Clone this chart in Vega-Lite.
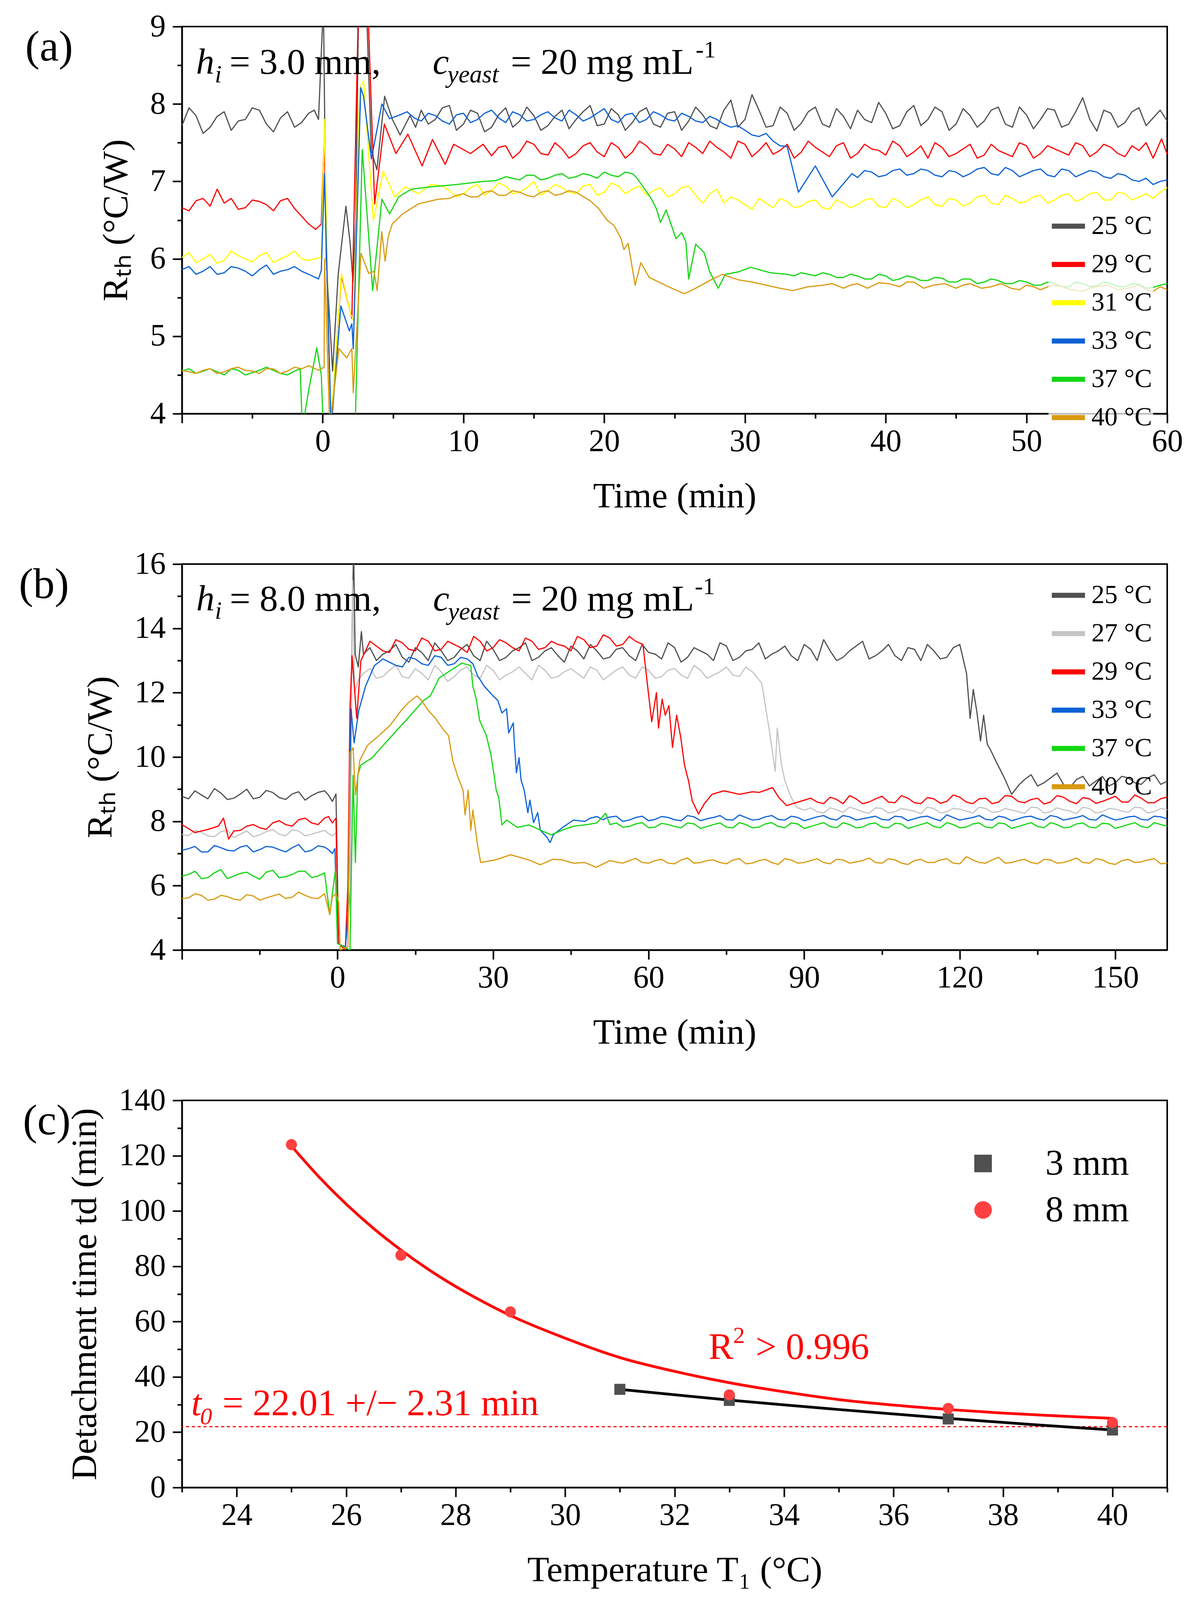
{
  "$schema": "https://vega.github.io/schema/vega-lite/v6.json",
  "background": "white",
  "padding": {"left": 46, "top": 26, "right": 10, "bottom": 10},
  "spacing": 84,
  "config": {
    "view": {"stroke": "#000", "strokeWidth": 4},
    "font": "Liberation Serif",
    "axis": {"grid": false, "domainColor": "#000", "domainWidth": 4, "tickColor": "#000", "tickWidth": 4,
      "labelFont": "Liberation Serif", "labelFontSize": 80, "labelColor": "#000", "labelOverlap": false, "labelFlush": false,
      "titleFont": "Liberation Serif", "titleFontSize": 92, "titleFontWeight": "normal", "titleColor": "#000"},
    "axisX": {"labelPadding": 8, "titlePadding": 55},
    "axisY": {"labelPadding": 18, "titlePadding": 40},
    "legend": {"labelFont": "Liberation Serif", "labelColor": "#000", "labelLimit": 1000},
    "title": {"font": "Liberation Serif", "fontSize": 110, "fontWeight": "normal", "color": "#000", "orient": "left", "anchor": "end", "angle": 0, "align": "right", "baseline": "top", "frame": "group"}
  },
  "datasets": {
    "a": [
      {"s":"25","t":-10,"v":7.72},{"s":"25","t":-9,"v":7.85},{"s":"25","t":-8,"v":7.70},{"s":"25","t":-7,"v":7.90},{"s":"25","t":-6,"v":7.78},{"s":"25","t":-5,"v":7.95},{"s":"25","t":-4,"v":7.74},{"s":"25","t":-3,"v":7.82},{"s":"25","t":-2,"v":7.70},{"s":"25","t":-1,"v":7.88},{"s":"25","t":-0.3,"v":7.80},{"s":"25","t":0.05,"v":9.3},{"s":"25","t":0.25,"v":6.0},{"s":"25","t":0.7,"v":4.55},{"s":"25","t":1.1,"v":5.8},{"s":"25","t":1.65,"v":6.68},{"s":"25","t":1.95,"v":6.2},{"s":"25","t":2.15,"v":5.7},{"s":"25","t":2.35,"v":6.5},{"s":"25","t":2.55,"v":9.3},{"s":"25","t":3.1,"v":9.3},{"s":"25","t":3.45,"v":7.4},{"s":"25","t":3.85,"v":7.15},{"s":"25","t":4.4,"v":8.1},{"s":"25","t":4.95,"v":7.8},{"s":"25","t":5.5,"v":7.6},{"s":"25","t":6.2,"v":7.85},{"s":"25","t":7,"v":7.92},{"s":"25","t":8,"v":7.80},{"s":"25","t":9,"v":7.98},{"s":"25","t":10,"v":7.74},{"s":"25","t":11,"v":7.88},{"s":"25","t":12,"v":7.70},{"s":"25","t":13,"v":7.95},{"s":"25","t":14,"v":7.78},{"s":"25","t":15,"v":7.85},{"s":"25","t":16,"v":7.72},{"s":"25","t":17,"v":7.92},{"s":"25","t":18,"v":7.80},{"s":"25","t":19,"v":7.98},{"s":"25","t":20,"v":7.74},{"s":"25","t":21,"v":7.86},{"s":"25","t":22,"v":7.76},{"s":"25","t":23,"v":7.95},{"s":"25","t":24,"v":7.70},{"s":"25","t":25,"v":7.90},{"s":"25","t":26,"v":7.78},{"s":"25","t":27,"v":7.86},{"s":"25","t":28,"v":7.68},{"s":"25","t":29,"v":8.05},{"s":"25","t":30,"v":7.80},{"s":"25","t":31,"v":7.92},{"s":"25","t":32,"v":7.72},{"s":"25","t":33,"v":7.88},{"s":"25","t":34,"v":7.75},{"s":"25","t":35,"v":7.96},{"s":"25","t":36,"v":7.70},{"s":"25","t":37,"v":7.84},{"s":"25","t":38,"v":7.92},{"s":"25","t":39,"v":7.76},{"s":"25","t":40,"v":7.88},{"s":"25","t":41,"v":7.72},{"s":"25","t":42,"v":7.98},{"s":"25","t":43,"v":7.80},{"s":"25","t":44,"v":7.90},{"s":"25","t":45,"v":7.74},{"s":"25","t":46,"v":7.85},{"s":"25","t":47,"v":7.78},{"s":"25","t":48,"v":7.96},{"s":"25","t":49,"v":7.70},{"s":"25","t":50,"v":7.86},{"s":"25","t":51,"v":7.80},{"s":"25","t":52,"v":7.92},{"s":"25","t":53,"v":7.74},{"s":"25","t":54,"v":8.08},{"s":"25","t":55,"v":7.65},{"s":"25","t":56,"v":7.88},{"s":"25","t":57,"v":7.76},{"s":"25","t":58,"v":7.95},{"s":"25","t":59,"v":7.82},{"s":"25","t":60,"v":7.78},
      {"s":"25","t":-9.5,"v":7.95},{"s":"25","t":-8.5,"v":7.62},{"s":"25","t":-7.5,"v":7.84},{"s":"25","t":-6.5,"v":7.66},{"s":"25","t":-5.5,"v":7.80},{"s":"25","t":-4.5,"v":7.92},{"s":"25","t":-3.5,"v":7.64},{"s":"25","t":-2.5,"v":7.90},{"s":"25","t":-1.5,"v":7.76},{"s":"25","t":-0.6,"v":7.92},{"s":"25","t":6.6,"v":7.70},{"s":"25","t":7.5,"v":7.74},{"s":"25","t":8.5,"v":7.95},{"s":"25","t":9.5,"v":7.66},{"s":"25","t":10.5,"v":7.92},{"s":"25","t":11.5,"v":7.64},{"s":"25","t":12.5,"v":7.86},{"s":"25","t":13.5,"v":7.70},{"s":"25","t":14.5,"v":7.96},{"s":"25","t":15.5,"v":7.66},{"s":"25","t":16.5,"v":7.84},{"s":"25","t":17.5,"v":7.68},{"s":"25","t":18.5,"v":7.90},{"s":"25","t":19.5,"v":7.72},{"s":"25","t":20.5,"v":7.94},{"s":"25","t":21.5,"v":7.66},{"s":"25","t":22.5,"v":7.90},{"s":"25","t":23.5,"v":7.74},{"s":"25","t":24.5,"v":7.88},{"s":"25","t":25.5,"v":7.66},{"s":"25","t":26.5,"v":7.96},{"s":"25","t":27.5,"v":7.72},{"s":"25","t":28.5,"v":7.92},{"s":"25","t":29.5,"v":7.70},{"s":"25","t":30.5,"v":8.12},{"s":"25","t":31.5,"v":7.70},{"s":"25","t":32.5,"v":7.96},{"s":"25","t":33.5,"v":7.66},{"s":"25","t":34.5,"v":7.90},{"s":"25","t":35.5,"v":7.74},{"s":"25","t":36.5,"v":7.94},{"s":"25","t":37.5,"v":7.68},{"s":"25","t":38.5,"v":7.80},{"s":"25","t":39.5,"v":8.02},{"s":"25","t":40.5,"v":7.68},{"s":"25","t":41.5,"v":7.90},{"s":"25","t":42.5,"v":7.72},{"s":"25","t":43.5,"v":7.96},{"s":"25","t":44.5,"v":7.66},{"s":"25","t":45.5,"v":7.94},{"s":"25","t":46.5,"v":7.70},{"s":"25","t":47.5,"v":7.92},{"s":"25","t":48.5,"v":7.74},{"s":"25","t":49.5,"v":7.96},{"s":"25","t":50.5,"v":7.68},{"s":"25","t":51.5,"v":7.94},{"s":"25","t":52.5,"v":7.70},{"s":"25","t":53.5,"v":7.90},{"s":"25","t":54.5,"v":7.80},{"s":"25","t":55.5,"v":7.92},{"s":"25","t":56.5,"v":7.70},{"s":"25","t":57.5,"v":7.90},{"s":"25","t":58.5,"v":7.72},{"s":"25","t":59.5,"v":7.92},
      {"s":"29","t":-10,"v":6.66},{"s":"29","t":-9,"v":6.75},{"s":"29","t":-8,"v":6.68},{"s":"29","t":-7.5,"v":6.9},{"s":"29","t":-7,"v":6.72},{"s":"29","t":-6,"v":6.64},{"s":"29","t":-5,"v":6.76},{"s":"29","t":-4,"v":6.70},{"s":"29","t":-3,"v":6.75},{"s":"29","t":-2,"v":6.65},{"s":"29","t":-1.5,"v":6.55},{"s":"29","t":-1,"v":6.45},{"s":"29","t":-0.5,"v":6.38},{"s":"29","t":-0.1,"v":6.45},{"s":"29","t":0.1,"v":7.55},{"s":"29","t":0.55,"v":3.8},{"s":"29","t":1.33,"v":5.78},{"s":"29","t":2.07,"v":5.23},{"s":"29","t":2.54,"v":9.3},{"s":"29","t":3.2,"v":9.3},{"s":"29","t":3.69,"v":6.71},{"s":"29","t":4.38,"v":7.74},{"s":"29","t":5.2,"v":7.36},{"s":"29","t":6.05,"v":7.61},{"s":"29","t":7.06,"v":7.2},{"s":"29","t":7.8,"v":7.54},{"s":"29","t":8.7,"v":7.22},{"s":"29","t":9.3,"v":7.48},{"s":"29","t":10.5,"v":7.36},{"s":"29","t":11.4,"v":7.48},{"s":"29","t":12,"v":7.33},{"s":"29","t":13,"v":7.46},{"s":"29","t":14,"v":7.38},{"s":"29","t":15,"v":7.48},{"s":"29","t":16,"v":7.34},{"s":"29","t":17,"v":7.42},{"s":"29","t":18,"v":7.36},{"s":"29","t":19,"v":7.50},{"s":"29","t":20,"v":7.32},{"s":"29","t":21,"v":7.44},{"s":"29","t":22,"v":7.38},{"s":"29","t":23,"v":7.46},{"s":"29","t":24,"v":7.34},{"s":"29","t":25,"v":7.42},{"s":"29","t":26,"v":7.50},{"s":"29","t":27,"v":7.36},{"s":"29","t":28,"v":7.44},{"s":"29","t":29,"v":7.30},{"s":"29","t":30,"v":7.48},{"s":"29","t":31,"v":7.40},{"s":"29","t":32,"v":7.35},{"s":"29","t":33,"v":7.48},{"s":"29","t":34,"v":7.38},{"s":"29","t":35,"v":7.44},{"s":"29","t":36,"v":7.32},{"s":"29","t":37,"v":7.50},{"s":"29","t":38,"v":7.36},{"s":"29","t":39,"v":7.42},{"s":"29","t":40,"v":7.34},{"s":"29","t":41,"v":7.46},{"s":"29","t":42,"v":7.38},{"s":"29","t":43,"v":7.30},{"s":"29","t":44,"v":7.44},{"s":"29","t":45,"v":7.36},{"s":"29","t":46,"v":7.48},{"s":"29","t":47,"v":7.34},{"s":"29","t":48,"v":7.40},{"s":"29","t":49,"v":7.32},{"s":"29","t":50,"v":7.46},{"s":"29","t":51,"v":7.36},{"s":"29","t":52,"v":7.42},{"s":"29","t":53,"v":7.34},{"s":"29","t":54,"v":7.46},{"s":"29","t":55,"v":7.38},{"s":"29","t":56,"v":7.44},{"s":"29","t":57,"v":7.32},{"s":"29","t":58,"v":7.40},{"s":"29","t":59,"v":7.30},{"s":"29","t":59.6,"v":7.55},{"s":"29","t":60,"v":7.35},
      {"s":"29","t":-9.5,"v":6.62},{"s":"29","t":-8.5,"v":6.78},{"s":"29","t":-6.5,"v":6.78},{"s":"29","t":-5.5,"v":6.66},{"s":"29","t":-4.5,"v":6.74},{"s":"29","t":-3.5,"v":6.62},{"s":"29","t":-2.5,"v":6.78},{"s":"29","t":12.5,"v":7.44},{"s":"29","t":13.5,"v":7.30},{"s":"29","t":14.5,"v":7.52},{"s":"29","t":15.5,"v":7.36},{"s":"29","t":16.5,"v":7.50},{"s":"29","t":17.5,"v":7.30},{"s":"29","t":18.5,"v":7.46},{"s":"29","t":19.5,"v":7.38},{"s":"29","t":20.5,"v":7.50},{"s":"29","t":21.5,"v":7.30},{"s":"29","t":22.5,"v":7.52},{"s":"29","t":23.5,"v":7.36},{"s":"29","t":24.5,"v":7.48},{"s":"29","t":25.5,"v":7.32},{"s":"29","t":26.5,"v":7.44},{"s":"29","t":27.5,"v":7.52},{"s":"29","t":28.5,"v":7.38},{"s":"29","t":29.5,"v":7.52},{"s":"29","t":30.5,"v":7.32},{"s":"29","t":31.5,"v":7.50},{"s":"29","t":32.5,"v":7.40},{"s":"29","t":33.5,"v":7.30},{"s":"29","t":34.5,"v":7.52},{"s":"29","t":35.5,"v":7.38},{"s":"29","t":36.5,"v":7.46},{"s":"29","t":37.5,"v":7.30},{"s":"29","t":38.5,"v":7.48},{"s":"29","t":39.5,"v":7.40},{"s":"29","t":40.5,"v":7.52},{"s":"29","t":41.5,"v":7.32},{"s":"29","t":42.5,"v":7.46},{"s":"29","t":43.5,"v":7.50},{"s":"29","t":44.5,"v":7.32},{"s":"29","t":45.5,"v":7.42},{"s":"29","t":46.5,"v":7.30},{"s":"29","t":47.5,"v":7.48},{"s":"29","t":48.5,"v":7.36},{"s":"29","t":49.5,"v":7.50},{"s":"29","t":50.5,"v":7.30},{"s":"29","t":51.5,"v":7.46},{"s":"29","t":52.5,"v":7.38},{"s":"29","t":53.5,"v":7.50},{"s":"29","t":54.5,"v":7.32},{"s":"29","t":55.5,"v":7.48},{"s":"29","t":56.5,"v":7.36},{"s":"29","t":57.5,"v":7.46},{"s":"29","t":58.5,"v":7.50},
      {"s":"31","t":-10,"v":6.02},{"s":"31","t":-9,"v":5.95},{"s":"31","t":-8,"v":6.06},{"s":"31","t":-7,"v":5.98},{"s":"31","t":-6,"v":6.04},{"s":"31","t":-5,"v":5.96},{"s":"31","t":-4,"v":6.08},{"s":"31","t":-3,"v":6.00},{"s":"31","t":-2,"v":6.10},{"s":"31","t":-1,"v":5.98},{"s":"31","t":-0.1,"v":6.02},{"s":"31","t":0.12,"v":7.8},{"s":"31","t":0.55,"v":3.8},{"s":"31","t":1.33,"v":5.81},{"s":"31","t":1.98,"v":5.29},{"s":"31","t":2.2,"v":5.2},{"s":"31","t":2.63,"v":8.2},{"s":"31","t":2.9,"v":8.3},{"s":"31","t":3.6,"v":6.49},{"s":"31","t":4.3,"v":7.13},{"s":"31","t":5.12,"v":6.8},{"s":"31","t":5.86,"v":6.93},{"s":"31","t":6.8,"v":6.84},{"s":"31","t":7.71,"v":6.96},{"s":"31","t":9,"v":6.88},{"s":"31","t":10,"v":6.84},{"s":"31","t":11,"v":6.96},{"s":"31","t":12,"v":6.88},{"s":"31","t":13,"v":6.94},{"s":"31","t":14,"v":6.86},{"s":"31","t":15,"v":7.00},{"s":"31","t":16,"v":6.88},{"s":"31","t":17,"v":6.92},{"s":"31","t":18,"v":6.84},{"s":"31","t":19,"v":6.96},{"s":"31","t":20,"v":6.86},{"s":"31","t":21,"v":6.94},{"s":"31","t":22,"v":6.90},{"s":"31","t":23,"v":6.82},{"s":"31","t":24,"v":6.92},{"s":"31","t":25,"v":6.84},{"s":"31","t":26,"v":6.94},{"s":"31","t":27,"v":6.72},{"s":"31","t":28,"v":6.90},{"s":"31","t":29,"v":6.80},{"s":"31","t":30,"v":6.70},{"s":"31","t":31,"v":6.78},{"s":"31","t":32,"v":6.66},{"s":"31","t":33,"v":6.74},{"s":"31","t":34,"v":6.68},{"s":"31","t":35,"v":6.76},{"s":"31","t":36,"v":6.64},{"s":"31","t":37,"v":6.72},{"s":"31","t":38,"v":6.70},{"s":"31","t":39,"v":6.78},{"s":"31","t":40,"v":6.66},{"s":"31","t":41,"v":6.74},{"s":"31","t":42,"v":6.70},{"s":"31","t":43,"v":6.80},{"s":"31","t":44,"v":6.68},{"s":"31","t":45,"v":6.76},{"s":"31","t":46,"v":6.72},{"s":"31","t":47,"v":6.82},{"s":"31","t":48,"v":6.70},{"s":"31","t":49,"v":6.78},{"s":"31","t":50,"v":6.74},{"s":"31","t":51,"v":6.82},{"s":"31","t":52,"v":6.76},{"s":"31","t":53,"v":6.84},{"s":"31","t":54,"v":6.78},{"s":"31","t":55,"v":6.86},{"s":"31","t":56,"v":6.76},{"s":"31","t":57,"v":6.84},{"s":"31","t":58,"v":6.80},{"s":"31","t":59,"v":6.78},{"s":"31","t":60,"v":6.92},
      {"s":"31","t":-9.5,"v":6.08},{"s":"31","t":-8.5,"v":6.00},{"s":"31","t":-7.5,"v":5.94},{"s":"31","t":-6.5,"v":6.10},{"s":"31","t":-5.5,"v":6.00},{"s":"31","t":-4.5,"v":6.04},{"s":"31","t":-3.5,"v":5.95},{"s":"31","t":-2.5,"v":6.04},{"s":"31","t":-1.5,"v":6.00},{"s":"31","t":8.5,"v":6.94},{"s":"31","t":9.5,"v":6.80},{"s":"31","t":10.5,"v":6.92},{"s":"31","t":11.5,"v":6.82},{"s":"31","t":12.5,"v":6.98},{"s":"31","t":13.5,"v":6.84},{"s":"31","t":14.5,"v":6.92},{"s":"31","t":15.5,"v":6.82},{"s":"31","t":16.5,"v":6.96},{"s":"31","t":17.5,"v":6.86},{"s":"31","t":18.5,"v":6.94},{"s":"31","t":19.5,"v":6.82},{"s":"31","t":20.5,"v":6.98},{"s":"31","t":21.5,"v":6.84},{"s":"31","t":22.5,"v":6.94},{"s":"31","t":23.5,"v":6.88},{"s":"31","t":24.5,"v":6.80},{"s":"31","t":25.5,"v":6.92},{"s":"31","t":26.5,"v":6.82},{"s":"31","t":27.5,"v":6.84},{"s":"31","t":28.5,"v":6.72},{"s":"31","t":29.5,"v":6.76},{"s":"31","t":30.5,"v":6.64},{"s":"31","t":31.5,"v":6.72},{"s":"31","t":32.5,"v":6.78},{"s":"31","t":33.5,"v":6.66},{"s":"31","t":34.5,"v":6.74},{"s":"31","t":35.5,"v":6.66},{"s":"31","t":36.5,"v":6.76},{"s":"31","t":37.5,"v":6.66},{"s":"31","t":38.5,"v":6.76},{"s":"31","t":39.5,"v":6.68},{"s":"31","t":40.5,"v":6.78},{"s":"31","t":41.5,"v":6.66},{"s":"31","t":42.5,"v":6.76},{"s":"31","t":43.5,"v":6.70},{"s":"31","t":44.5,"v":6.78},{"s":"31","t":45.5,"v":6.68},{"s":"31","t":46.5,"v":6.80},{"s":"31","t":47.5,"v":6.72},{"s":"31","t":48.5,"v":6.82},{"s":"31","t":49.5,"v":6.72},{"s":"31","t":50.5,"v":6.80},{"s":"31","t":51.5,"v":6.72},{"s":"31","t":52.5,"v":6.82},{"s":"31","t":53.5,"v":6.74},{"s":"31","t":54.5,"v":6.84},{"s":"31","t":55.5,"v":6.76},{"s":"31","t":56.5,"v":6.86},{"s":"31","t":57.5,"v":6.76},{"s":"31","t":58.5,"v":6.84},{"s":"31","t":59.5,"v":6.86},
      {"s":"33","t":-10,"v":5.86},{"s":"33","t":-9,"v":5.80},{"s":"33","t":-8,"v":5.90},{"s":"33","t":-7,"v":5.82},{"s":"33","t":-6,"v":5.88},{"s":"33","t":-5,"v":5.78},{"s":"33","t":-4,"v":5.92},{"s":"33","t":-3,"v":5.84},{"s":"33","t":-2,"v":5.90},{"s":"33","t":-1,"v":5.80},{"s":"33","t":-0.3,"v":5.74},{"s":"33","t":-0.1,"v":5.85},{"s":"33","t":0.12,"v":7.1},{"s":"33","t":0.6,"v":3.8},{"s":"33","t":1.29,"v":5.39},{"s":"33","t":1.89,"v":5.07},{"s":"33","t":2.07,"v":5.16},{"s":"33","t":2.17,"v":4.84},{"s":"33","t":2.7,"v":8.21},{"s":"33","t":2.9,"v":8.1},{"s":"33","t":3.46,"v":7.29},{"s":"33","t":4.2,"v":8.0},{"s":"33","t":4.75,"v":7.81},{"s":"33","t":5.5,"v":7.86},{"s":"33","t":6,"v":7.90},{"s":"33","t":7,"v":7.78},{"s":"33","t":8,"v":7.85},{"s":"33","t":9,"v":7.74},{"s":"33","t":10,"v":7.88},{"s":"33","t":11,"v":7.80},{"s":"33","t":12,"v":7.92},{"s":"33","t":13,"v":7.76},{"s":"33","t":14,"v":7.86},{"s":"33","t":15,"v":7.80},{"s":"33","t":16,"v":7.90},{"s":"33","t":17,"v":7.78},{"s":"33","t":18,"v":7.86},{"s":"33","t":19,"v":7.82},{"s":"33","t":20,"v":7.94},{"s":"33","t":21,"v":7.76},{"s":"33","t":22,"v":7.88},{"s":"33","t":23,"v":7.80},{"s":"33","t":24,"v":7.86},{"s":"33","t":25,"v":7.78},{"s":"33","t":26,"v":7.84},{"s":"33","t":27,"v":7.76},{"s":"33","t":28,"v":7.80},{"s":"33","t":29,"v":7.70},{"s":"33","t":30,"v":7.66},{"s":"33","t":31,"v":7.58},{"s":"33","t":32,"v":7.52},{"s":"33","t":33,"v":7.45},{"s":"33","t":33.8,"v":6.86},{"s":"33","t":35,"v":7.2},{"s":"33","t":36.2,"v":6.8},{"s":"33","t":37.6,"v":7.1},{"s":"33","t":38,"v":7.05},{"s":"33","t":39,"v":7.12},{"s":"33","t":40,"v":7.08},{"s":"33","t":41,"v":7.16},{"s":"33","t":42,"v":7.10},{"s":"33","t":43,"v":7.14},{"s":"33","t":44,"v":7.06},{"s":"33","t":45,"v":7.12},{"s":"33","t":46,"v":7.10},{"s":"33","t":47,"v":7.18},{"s":"33","t":48,"v":7.08},{"s":"33","t":49,"v":7.14},{"s":"33","t":50,"v":7.10},{"s":"33","t":51,"v":7.16},{"s":"33","t":52,"v":7.06},{"s":"33","t":53,"v":7.14},{"s":"33","t":54,"v":7.10},{"s":"33","t":55,"v":7.12},{"s":"33","t":56,"v":7.04},{"s":"33","t":57,"v":7.08},{"s":"33","t":58,"v":7.00},{"s":"33","t":59,"v":6.96},{"s":"33","t":60,"v":7.02},
      {"s":"33","t":-9.5,"v":5.90},{"s":"33","t":-8.5,"v":5.84},{"s":"33","t":-7.5,"v":5.80},{"s":"33","t":-6.5,"v":5.90},{"s":"33","t":-5.5,"v":5.84},{"s":"33","t":-4.5,"v":5.86},{"s":"33","t":-3.5,"v":5.80},{"s":"33","t":-2.5,"v":5.86},{"s":"33","t":-1.5,"v":5.84},{"s":"33","t":6.5,"v":7.82},{"s":"33","t":7.5,"v":7.88},{"s":"33","t":8.5,"v":7.78},{"s":"33","t":9.5,"v":7.86},{"s":"33","t":10.5,"v":7.76},{"s":"33","t":11.5,"v":7.88},{"s":"33","t":12.5,"v":7.82},{"s":"33","t":13.5,"v":7.90},{"s":"33","t":14.5,"v":7.78},{"s":"33","t":15.5,"v":7.86},{"s":"33","t":16.5,"v":7.82},{"s":"33","t":17.5,"v":7.92},{"s":"33","t":18.5,"v":7.78},{"s":"33","t":19.5,"v":7.88},{"s":"33","t":20.5,"v":7.80},{"s":"33","t":21.5,"v":7.86},{"s":"33","t":22.5,"v":7.76},{"s":"33","t":23.5,"v":7.90},{"s":"33","t":24.5,"v":7.80},{"s":"33","t":25.5,"v":7.88},{"s":"33","t":26.5,"v":7.78},{"s":"33","t":27.5,"v":7.84},{"s":"33","t":28.5,"v":7.74},{"s":"33","t":29.5,"v":7.72},{"s":"33","t":30.5,"v":7.60},{"s":"33","t":31.5,"v":7.62},{"s":"33","t":32.5,"v":7.46},{"s":"33","t":38.5,"v":7.14},{"s":"33","t":39.5,"v":7.06},{"s":"33","t":40.5,"v":7.14},{"s":"33","t":41.5,"v":7.08},{"s":"33","t":42.5,"v":7.16},{"s":"33","t":43.5,"v":7.08},{"s":"33","t":44.5,"v":7.14},{"s":"33","t":45.5,"v":7.06},{"s":"33","t":46.5,"v":7.16},{"s":"33","t":47.5,"v":7.10},{"s":"33","t":48.5,"v":7.18},{"s":"33","t":49.5,"v":7.06},{"s":"33","t":50.5,"v":7.14},{"s":"33","t":51.5,"v":7.08},{"s":"33","t":52.5,"v":7.16},{"s":"33","t":53.5,"v":7.06},{"s":"33","t":54.5,"v":7.14},{"s":"33","t":55.5,"v":7.06},{"s":"33","t":56.5,"v":7.10},{"s":"33","t":57.5,"v":7.02},{"s":"33","t":58.5,"v":7.04},{"s":"33","t":59.5,"v":7.00},
      {"s":"37","t":-10,"v":4.55},{"s":"37","t":-9,"v":4.52},{"s":"37","t":-8,"v":4.58},{"s":"37","t":-7,"v":4.50},{"s":"37","t":-6,"v":4.56},{"s":"37","t":-5,"v":4.53},{"s":"37","t":-4,"v":4.60},{"s":"37","t":-3,"v":4.52},{"s":"37","t":-2,"v":4.55},{"s":"37","t":-1.6,"v":4.58},{"s":"37","t":-1.45,"v":3.8},{"s":"37","t":-1.0,"v":4.3},{"s":"37","t":-0.42,"v":4.85},{"s":"37","t":-0.1,"v":4.5},{"s":"37","t":0.04,"v":3.8},{"s":"37","t":2.3,"v":3.8},{"s":"37","t":2.81,"v":7.41},{"s":"37","t":3.55,"v":5.59},{"s":"37","t":4.2,"v":6.77},{"s":"37","t":4.75,"v":6.58},{"s":"37","t":5.4,"v":6.8},{"s":"37","t":6.3,"v":6.9},{"s":"37","t":7.7,"v":6.93},{"s":"37","t":9.56,"v":6.96},{"s":"37","t":10.5,"v":6.98},{"s":"37","t":11.4,"v":7.0},{"s":"37","t":12.3,"v":7.01},{"s":"37","t":13,"v":7.06},{"s":"37","t":14,"v":7.02},{"s":"37","t":15,"v":7.08},{"s":"37","t":16,"v":7.04},{"s":"37","t":17,"v":7.10},{"s":"37","t":18,"v":7.06},{"s":"37","t":19,"v":7.08},{"s":"37","t":20,"v":7.12},{"s":"37","t":21,"v":7.06},{"s":"37","t":22,"v":7.10},{"s":"37","t":22.3,"v":7.05},{"s":"37","t":23.3,"v":6.79},{"s":"37","t":23.7,"v":6.65},{"s":"37","t":24,"v":6.47},{"s":"37","t":24.4,"v":6.63},{"s":"37","t":25.1,"v":6.26},{"s":"37","t":25.5,"v":6.34},{"s":"37","t":25.8,"v":6.22},{"s":"37","t":26.0,"v":5.74},{"s":"37","t":26.5,"v":6.19},{"s":"37","t":27.1,"v":6.08},{"s":"37","t":27.5,"v":5.83},{"s":"37","t":28.1,"v":5.62},{"s":"37","t":28.6,"v":5.80},{"s":"37","t":29.5,"v":5.83},{"s":"37","t":30.4,"v":5.89},{"s":"37","t":31.8,"v":5.82},{"s":"37","t":33,"v":5.80},{"s":"37","t":34,"v":5.82},{"s":"37","t":35,"v":5.78},{"s":"37","t":36,"v":5.80},{"s":"37","t":37,"v":5.76},{"s":"37","t":38,"v":5.78},{"s":"37","t":39,"v":5.74},{"s":"37","t":40,"v":5.78},{"s":"37","t":41,"v":5.74},{"s":"37","t":42,"v":5.76},{"s":"37","t":43,"v":5.72},{"s":"37","t":44,"v":5.75},{"s":"37","t":45,"v":5.70},{"s":"37","t":46,"v":5.74},{"s":"37","t":47,"v":5.70},{"s":"37","t":48,"v":5.72},{"s":"37","t":49,"v":5.68},{"s":"37","t":50,"v":5.70},{"s":"37","t":51,"v":5.66},{"s":"37","t":52,"v":5.68},{"s":"37","t":53,"v":5.64},{"s":"37","t":54,"v":5.68},{"s":"37","t":55,"v":5.65},{"s":"37","t":56,"v":5.68},{"s":"37","t":57,"v":5.64},{"s":"37","t":58,"v":5.67},{"s":"37","t":59,"v":5.63},{"s":"37","t":60,"v":5.68},
      {"s":"37","t":-9.5,"v":4.58},{"s":"37","t":-8.5,"v":4.55},{"s":"37","t":-7.5,"v":4.54},{"s":"37","t":-6.5,"v":4.58},{"s":"37","t":-5.5,"v":4.50},{"s":"37","t":-4.5,"v":4.56},{"s":"37","t":-3.5,"v":4.56},{"s":"37","t":-2.5,"v":4.50},{"s":"37","t":13.5,"v":7.04},{"s":"37","t":14.5,"v":7.08},{"s":"37","t":15.5,"v":7.02},{"s":"37","t":16.5,"v":7.08},{"s":"37","t":17.5,"v":7.04},{"s":"37","t":18.5,"v":7.10},{"s":"37","t":19.5,"v":7.04},{"s":"37","t":20.5,"v":7.08},{"s":"37","t":21.5,"v":7.12},{"s":"37","t":33.5,"v":5.78},{"s":"37","t":34.5,"v":5.80},{"s":"37","t":35.5,"v":5.82},{"s":"37","t":36.5,"v":5.76},{"s":"37","t":37.5,"v":5.80},{"s":"37","t":38.5,"v":5.74},{"s":"37","t":39.5,"v":5.80},{"s":"37","t":40.5,"v":5.72},{"s":"37","t":41.5,"v":5.78},{"s":"37","t":42.5,"v":5.72},{"s":"37","t":43.5,"v":5.76},{"s":"37","t":44.5,"v":5.70},{"s":"37","t":45.5,"v":5.74},{"s":"37","t":46.5,"v":5.68},{"s":"37","t":47.5,"v":5.74},{"s":"37","t":48.5,"v":5.68},{"s":"37","t":49.5,"v":5.72},{"s":"37","t":50.5,"v":5.66},{"s":"37","t":51.5,"v":5.70},{"s":"37","t":52.5,"v":5.64},{"s":"37","t":53.5,"v":5.70},{"s":"37","t":54.5,"v":5.64},{"s":"37","t":55.5,"v":5.70},{"s":"37","t":56.5,"v":5.64},{"s":"37","t":57.5,"v":5.68},{"s":"37","t":58.5,"v":5.62},{"s":"37","t":59.5,"v":5.66},
      {"s":"40","t":-10,"v":4.56},{"s":"40","t":-9,"v":4.52},{"s":"40","t":-8,"v":4.58},{"s":"40","t":-7,"v":4.54},{"s":"40","t":-6,"v":4.60},{"s":"40","t":-5,"v":4.55},{"s":"40","t":-4,"v":4.58},{"s":"40","t":-3,"v":4.52},{"s":"40","t":-2,"v":4.60},{"s":"40","t":-1,"v":4.62},{"s":"40","t":-0.3,"v":4.56},{"s":"40","t":0.1,"v":4.6},{"s":"40","t":0.13,"v":6.0},{"s":"40","t":0.5,"v":3.8},{"s":"40","t":1.15,"v":4.84},{"s":"40","t":1.7,"v":4.72},{"s":"40","t":2.07,"v":4.84},{"s":"40","t":2.17,"v":4.27},{"s":"40","t":2.72,"v":6.07},{"s":"40","t":3.27,"v":5.81},{"s":"40","t":3.64,"v":5.84},{"s":"40","t":3.87,"v":5.59},{"s":"40","t":4.2,"v":6.35},{"s":"40","t":4.43,"v":5.97},{"s":"40","t":4.66,"v":6.29},{"s":"40","t":4.94,"v":6.45},{"s":"40","t":5.68,"v":6.58},{"s":"40","t":6.8,"v":6.71},{"s":"40","t":8.2,"v":6.77},{"s":"40","t":9,"v":6.78},{"s":"40","t":10,"v":6.84},{"s":"40","t":11,"v":6.80},{"s":"40","t":12,"v":6.88},{"s":"40","t":13,"v":6.82},{"s":"40","t":14,"v":6.86},{"s":"40","t":15,"v":6.80},{"s":"40","t":16,"v":6.88},{"s":"40","t":17,"v":6.84},{"s":"40","t":18,"v":6.86},{"s":"40","t":19,"v":6.75},{"s":"40","t":19.6,"v":6.65},{"s":"40","t":20.2,"v":6.5},{"s":"40","t":20.7,"v":6.43},{"s":"40","t":21.2,"v":6.26},{"s":"40","t":21.4,"v":6.12},{"s":"40","t":21.7,"v":6.2},{"s":"40","t":22.2,"v":5.66},{"s":"40","t":22.6,"v":5.95},{"s":"40","t":23.2,"v":5.76},{"s":"40","t":24,"v":5.69},{"s":"40","t":24.8,"v":5.62},{"s":"40","t":25.7,"v":5.55},{"s":"40","t":26.5,"v":5.62},{"s":"40","t":27.6,"v":5.73},{"s":"40","t":28.4,"v":5.80},{"s":"40","t":29.5,"v":5.73},{"s":"40","t":30.5,"v":5.70},{"s":"40","t":31.5,"v":5.66},{"s":"40","t":32.5,"v":5.62},{"s":"40","t":33.4,"v":5.59},{"s":"40","t":34.5,"v":5.64},{"s":"40","t":35.6,"v":5.66},{"s":"40","t":37,"v":5.62},{"s":"40","t":38,"v":5.68},{"s":"40","t":39.5,"v":5.69},{"s":"40","t":41,"v":5.64},{"s":"40","t":42,"v":5.70},{"s":"40","t":43.4,"v":5.66},{"s":"40","t":45,"v":5.62},{"s":"40","t":46,"v":5.68},{"s":"40","t":47.5,"v":5.64},{"s":"40","t":48.9,"v":5.62},{"s":"40","t":50,"v":5.66},{"s":"40","t":51,"v":5.60},{"s":"40","t":52.5,"v":5.64},{"s":"40","t":54,"v":5.58},{"s":"40","t":55,"v":5.64},{"s":"40","t":56.5,"v":5.60},{"s":"40","t":58,"v":5.66},{"s":"40","t":59,"v":5.58},{"s":"40","t":60,"v":5.60},
      {"s":"40","t":-9.5,"v":4.54},{"s":"40","t":-8.5,"v":4.56},{"s":"40","t":-7.5,"v":4.52},{"s":"40","t":-6.5,"v":4.58},{"s":"40","t":-5.5,"v":4.56},{"s":"40","t":-4.5,"v":4.52},{"s":"40","t":-3.5,"v":4.58},{"s":"40","t":-2.5,"v":4.55},{"s":"40","t":-1.5,"v":4.58},{"s":"40","t":9.5,"v":6.82},{"s":"40","t":10.5,"v":6.80},{"s":"40","t":11.5,"v":6.86},{"s":"40","t":12.5,"v":6.82},{"s":"40","t":13.5,"v":6.88},{"s":"40","t":14.5,"v":6.82},{"s":"40","t":15.5,"v":6.86},{"s":"40","t":16.5,"v":6.82},{"s":"40","t":17.5,"v":6.88},{"s":"40","t":36.2,"v":5.68},{"s":"40","t":37.5,"v":5.66},{"s":"40","t":38.7,"v":5.62},{"s":"40","t":40.2,"v":5.68},{"s":"40","t":41.5,"v":5.70},{"s":"40","t":42.7,"v":5.62},{"s":"40","t":44.2,"v":5.68},{"s":"40","t":45.5,"v":5.66},{"s":"40","t":46.8,"v":5.62},{"s":"40","t":48.2,"v":5.68},{"s":"40","t":49.5,"v":5.60},{"s":"40","t":50.5,"v":5.64},{"s":"40","t":51.8,"v":5.66},{"s":"40","t":53.2,"v":5.60},{"s":"40","t":54.5,"v":5.62},{"s":"40","t":55.8,"v":5.66},{"s":"40","t":57.2,"v":5.62},{"s":"40","t":58.5,"v":5.60},{"s":"40","t":59.5,"v":5.64}
    ],
    "b": [
      {"s":"25","t":-30,"v":8.78},{"s":"25","t":-27.5,"v":8.95},{"s":"25","t":-25,"v":8.70},{"s":"25","t":-22.5,"v":8.88},{"s":"25","t":-20,"v":8.72},{"s":"25","t":-17.5,"v":9.0},{"s":"25","t":-15,"v":8.75},{"s":"25","t":-12.5,"v":8.90},{"s":"25","t":-10,"v":8.68},{"s":"25","t":-7.5,"v":8.92},{"s":"25","t":-5,"v":8.80},{"s":"25","t":-2.5,"v":8.95},{"s":"25","t":-1,"v":8.62},{"s":"25","t":-0.3,"v":8.85},{"s":"25","t":0.2,"v":4.2},{"s":"25","t":1.5,"v":4.0},{"s":"25","t":2.4,"v":5.8},{"s":"25","t":2.8,"v":14.0},{"s":"25","t":3.1,"v":16.5},{"s":"25","t":3.4,"v":13.2},{"s":"25","t":4,"v":12.8},{"s":"25","t":4.6,"v":13.9},{"s":"25","t":5,"v":13.2},{"s":"25","t":7.5,"v":13.0},{"s":"25","t":10,"v":13.3},{"s":"25","t":12.5,"v":13.1},{"s":"25","t":15,"v":13.4},{"s":"25","t":17.5,"v":13.0},{"s":"25","t":20,"v":13.3},{"s":"25","t":22.5,"v":13.1},{"s":"25","t":25,"v":13.5},{"s":"25","t":27.5,"v":13.0},{"s":"25","t":30,"v":13.35},{"s":"25","t":32.5,"v":13.1},{"s":"25","t":35,"v":13.4},{"s":"25","t":37.5,"v":13.0},{"s":"25","t":40,"v":13.3},{"s":"25","t":42.5,"v":13.15},{"s":"25","t":45,"v":13.45},{"s":"25","t":47.5,"v":13.05},{"s":"25","t":50,"v":13.3},{"s":"25","t":52.5,"v":13.1},{"s":"25","t":55,"v":13.4},{"s":"25","t":57.5,"v":13.0},{"s":"25","t":60,"v":13.25},{"s":"25","t":62.5,"v":13.05},{"s":"25","t":65,"v":13.4},{"s":"25","t":67.5,"v":13.1},{"s":"25","t":70,"v":13.3},{"s":"25","t":72.5,"v":13.0},{"s":"25","t":75,"v":13.45},{"s":"25","t":77.5,"v":13.1},{"s":"25","t":80,"v":13.35},{"s":"25","t":82.5,"v":13.05},{"s":"25","t":85,"v":13.3},{"s":"25","t":87.5,"v":13.15},{"s":"25","t":90,"v":13.5},{"s":"25","t":92.5,"v":13.0},{"s":"25","t":95,"v":13.3},{"s":"25","t":97.5,"v":13.1},{"s":"25","t":100,"v":13.45},{"s":"25","t":102.5,"v":13.05},{"s":"25","t":105,"v":13.3},{"s":"25","t":107.5,"v":13.15},{"s":"25","t":110,"v":13.4},{"s":"25","t":112.5,"v":13.0},{"s":"25","t":115,"v":13.3},{"s":"25","t":117.5,"v":13.1},{"s":"25","t":120,"v":13.5},{"s":"25","t":121.3,"v":12.6},{"s":"25","t":122,"v":11.2},{"s":"25","t":122.6,"v":12.1},{"s":"25","t":123.3,"v":11.4},{"s":"25","t":124,"v":10.5},{"s":"25","t":124.6,"v":11.3},{"s":"25","t":125.3,"v":10.4},{"s":"25","t":126,"v":10.2},{"s":"25","t":127,"v":9.86},{"s":"25","t":128.6,"v":9.35},{"s":"25","t":130,"v":8.84},{"s":"25","t":131.5,"v":9.15},{"s":"25","t":132.5,"v":9.3},{"s":"25","t":135,"v":9.1},{"s":"25","t":137.5,"v":9.35},{"s":"25","t":140,"v":9.15},{"s":"25","t":142.5,"v":9.3},{"s":"25","t":145,"v":9.1},{"s":"25","t":147.5,"v":9.4},{"s":"25","t":150,"v":9.2},{"s":"25","t":152.5,"v":9.35},{"s":"25","t":155,"v":9.15},{"s":"25","t":157.5,"v":9.45},{"s":"25","t":160,"v":9.25},
      {"s":"25","t":-28.75,"v":8.70},{"s":"25","t":-26.25,"v":8.82},{"s":"25","t":-23.75,"v":9.02},{"s":"25","t":-21.25,"v":8.68},{"s":"25","t":-18.75,"v":8.85},{"s":"25","t":-16.25,"v":8.70},{"s":"25","t":-13.75,"v":8.96},{"s":"25","t":-11.25,"v":8.74},{"s":"25","t":-8.75,"v":8.85},{"s":"25","t":-6.25,"v":8.66},{"s":"25","t":-3.75,"v":8.90},{"s":"25","t":-1.75,"v":8.82},{"s":"25","t":6.25,"v":13.4},{"s":"25","t":8.75,"v":13.2},{"s":"25","t":11.25,"v":13.5},{"s":"25","t":13.75,"v":12.95},{"s":"25","t":16.25,"v":13.25},{"s":"25","t":18.75,"v":13.55},{"s":"25","t":21.25,"v":13.0},{"s":"25","t":23.75,"v":13.35},{"s":"25","t":26.25,"v":13.15},{"s":"25","t":28.75,"v":13.6},{"s":"25","t":31.25,"v":13.0},{"s":"25","t":33.75,"v":13.3},{"s":"25","t":36.25,"v":13.55},{"s":"25","t":38.75,"v":13.1},{"s":"25","t":41.25,"v":13.4},{"s":"25","t":43.75,"v":12.95},{"s":"25","t":46.25,"v":13.3},{"s":"25","t":48.75,"v":13.5},{"s":"25","t":51.25,"v":13.05},{"s":"25","t":53.75,"v":13.35},{"s":"25","t":56.25,"v":13.15},{"s":"25","t":58.75,"v":13.5},{"s":"25","t":61.25,"v":13.2},{"s":"25","t":63.75,"v":13.55},{"s":"25","t":66.25,"v":12.95},{"s":"25","t":68.75,"v":13.4},{"s":"25","t":71.25,"v":13.2},{"s":"25","t":73.75,"v":13.55},{"s":"25","t":76.25,"v":13.0},{"s":"25","t":78.75,"v":13.3},{"s":"25","t":81.25,"v":13.55},{"s":"25","t":83.75,"v":13.2},{"s":"25","t":86.25,"v":13.45},{"s":"25","t":88.75,"v":13.0},{"s":"25","t":91.25,"v":13.35},{"s":"25","t":93.75,"v":13.65},{"s":"25","t":96.25,"v":13.0},{"s":"25","t":98.75,"v":13.3},{"s":"25","t":101.25,"v":13.6},{"s":"25","t":103.75,"v":13.15},{"s":"25","t":106.25,"v":13.5},{"s":"25","t":108.75,"v":13.0},{"s":"25","t":111.25,"v":13.35},{"s":"25","t":113.75,"v":13.5},{"s":"25","t":116.25,"v":13.05},{"s":"25","t":118.75,"v":13.4},{"s":"25","t":133.75,"v":9.45},{"s":"25","t":136.25,"v":9.2},{"s":"25","t":138.75,"v":9.5},{"s":"25","t":141.25,"v":9.05},{"s":"25","t":143.75,"v":9.4},{"s":"25","t":146.25,"v":9.25},{"s":"25","t":148.75,"v":9.1},{"s":"25","t":151.25,"v":9.4},{"s":"25","t":153.75,"v":9.2},{"s":"25","t":156.25,"v":9.35},{"s":"25","t":158.75,"v":9.15},
      {"s":"27","t":-30,"v":7.6},{"s":"27","t":-27.5,"v":7.72},{"s":"27","t":-25,"v":7.55},{"s":"27","t":-22.5,"v":7.68},{"s":"27","t":-20,"v":7.5},{"s":"27","t":-17.5,"v":7.7},{"s":"27","t":-15,"v":7.58},{"s":"27","t":-12.5,"v":7.75},{"s":"27","t":-10,"v":7.55},{"s":"27","t":-7.5,"v":7.7},{"s":"27","t":-5,"v":7.6},{"s":"27","t":-2.5,"v":7.72},{"s":"27","t":-1,"v":7.55},{"s":"27","t":-0.3,"v":7.65},{"s":"27","t":0.2,"v":4.2},{"s":"27","t":1.5,"v":4.0},{"s":"27","t":2.4,"v":5.5},{"s":"27","t":2.9,"v":15.5},{"s":"27","t":3.3,"v":12.0},{"s":"27","t":4,"v":12.4},{"s":"27","t":5,"v":12.6},{"s":"27","t":7.5,"v":12.45},{"s":"27","t":10,"v":12.7},{"s":"27","t":12.5,"v":12.5},{"s":"27","t":15,"v":12.75},{"s":"27","t":17.5,"v":12.4},{"s":"27","t":20,"v":12.65},{"s":"27","t":22.5,"v":12.5},{"s":"27","t":25,"v":12.8},{"s":"27","t":27.5,"v":12.45},{"s":"27","t":30,"v":12.7},{"s":"27","t":32.5,"v":12.55},{"s":"27","t":35,"v":12.8},{"s":"27","t":37.5,"v":12.4},{"s":"27","t":40,"v":12.7},{"s":"27","t":42.5,"v":12.5},{"s":"27","t":45,"v":12.75},{"s":"27","t":47.5,"v":12.45},{"s":"27","t":50,"v":12.7},{"s":"27","t":52.5,"v":12.55},{"s":"27","t":55,"v":12.8},{"s":"27","t":57.5,"v":12.45},{"s":"27","t":60,"v":12.7},{"s":"27","t":62.5,"v":12.5},{"s":"27","t":65,"v":12.75},{"s":"27","t":67.5,"v":12.45},{"s":"27","t":70,"v":12.7},{"s":"27","t":72.5,"v":12.55},{"s":"27","t":75,"v":12.8},{"s":"27","t":77.5,"v":12.5},{"s":"27","t":80,"v":12.65},{"s":"27","t":81.8,"v":12.3},{"s":"27","t":82.5,"v":11.6},{"s":"27","t":83.3,"v":10.8},{"s":"27","t":84.4,"v":9.56},{"s":"27","t":84.8,"v":10.9},{"s":"27","t":85.6,"v":9.76},{"s":"27","t":86.3,"v":9.25},{"s":"27","t":87.5,"v":8.74},{"s":"27","t":88.6,"v":8.43},{"s":"27","t":90,"v":8.35},{"s":"27","t":92.5,"v":8.3},{"s":"27","t":95,"v":8.42},{"s":"27","t":97.5,"v":8.28},{"s":"27","t":100,"v":8.38},{"s":"27","t":102.5,"v":8.25},{"s":"27","t":105,"v":8.4},{"s":"27","t":107.5,"v":8.3},{"s":"27","t":110,"v":8.36},{"s":"27","t":112.5,"v":8.24},{"s":"27","t":115,"v":8.4},{"s":"27","t":117.5,"v":8.3},{"s":"27","t":120,"v":8.38},{"s":"27","t":122.5,"v":8.26},{"s":"27","t":125,"v":8.4},{"s":"27","t":127.5,"v":8.3},{"s":"27","t":130,"v":8.35},{"s":"27","t":132.5,"v":8.25},{"s":"27","t":135,"v":8.42},{"s":"27","t":137.5,"v":8.3},{"s":"27","t":140,"v":8.36},{"s":"27","t":142.5,"v":8.24},{"s":"27","t":145,"v":8.4},{"s":"27","t":147.5,"v":8.3},{"s":"27","t":150,"v":8.38},{"s":"27","t":152.5,"v":8.28},{"s":"27","t":155,"v":8.42},{"s":"27","t":157.5,"v":8.3},{"s":"27","t":160,"v":8.36},
      {"s":"27","t":-28.75,"v":7.55},{"s":"27","t":-26.25,"v":7.66},{"s":"27","t":-23.75,"v":7.52},{"s":"27","t":-21.25,"v":7.72},{"s":"27","t":-18.75,"v":7.6},{"s":"27","t":-16.25,"v":7.52},{"s":"27","t":-13.75,"v":7.68},{"s":"27","t":-11.25,"v":7.6},{"s":"27","t":-8.75,"v":7.74},{"s":"27","t":-6.25,"v":7.55},{"s":"27","t":-3.75,"v":7.66},{"s":"27","t":-1.75,"v":7.62},{"s":"27","t":6.25,"v":12.75},{"s":"27","t":8.75,"v":12.5},{"s":"27","t":11.25,"v":12.85},{"s":"27","t":13.75,"v":12.45},{"s":"27","t":16.25,"v":12.6},{"s":"27","t":18.75,"v":12.85},{"s":"27","t":21.25,"v":12.35},{"s":"27","t":23.75,"v":12.7},{"s":"27","t":26.25,"v":12.55},{"s":"27","t":28.75,"v":12.85},{"s":"27","t":31.25,"v":12.4},{"s":"27","t":33.75,"v":12.65},{"s":"27","t":36.25,"v":12.6},{"s":"27","t":38.75,"v":12.85},{"s":"27","t":41.25,"v":12.45},{"s":"27","t":43.75,"v":12.65},{"s":"27","t":46.25,"v":12.6},{"s":"27","t":48.75,"v":12.8},{"s":"27","t":51.25,"v":12.4},{"s":"27","t":53.75,"v":12.7},{"s":"27","t":56.25,"v":12.55},{"s":"27","t":58.75,"v":12.8},{"s":"27","t":61.25,"v":12.45},{"s":"27","t":63.75,"v":12.7},{"s":"27","t":66.25,"v":12.55},{"s":"27","t":68.75,"v":12.85},{"s":"27","t":71.25,"v":12.45},{"s":"27","t":73.75,"v":12.65},{"s":"27","t":76.25,"v":12.55},{"s":"27","t":78.75,"v":12.8},{"s":"27","t":91.25,"v":8.42},{"s":"27","t":93.75,"v":8.26},{"s":"27","t":96.25,"v":8.36},{"s":"27","t":98.75,"v":8.44},{"s":"27","t":101.25,"v":8.3},{"s":"27","t":103.75,"v":8.42},{"s":"27","t":106.25,"v":8.26},{"s":"27","t":108.75,"v":8.4},{"s":"27","t":111.25,"v":8.32},{"s":"27","t":113.75,"v":8.44},{"s":"27","t":116.25,"v":8.26},{"s":"27","t":118.75,"v":8.4},{"s":"27","t":121.25,"v":8.32},{"s":"27","t":123.75,"v":8.44},{"s":"27","t":126.25,"v":8.28},{"s":"27","t":128.75,"v":8.4},{"s":"27","t":131.25,"v":8.3},{"s":"27","t":133.75,"v":8.44},{"s":"27","t":136.25,"v":8.26},{"s":"27","t":138.75,"v":8.42},{"s":"27","t":141.25,"v":8.32},{"s":"27","t":143.75,"v":8.44},{"s":"27","t":146.25,"v":8.26},{"s":"27","t":148.75,"v":8.4},{"s":"27","t":151.25,"v":8.32},{"s":"27","t":153.75,"v":8.44},{"s":"27","t":156.25,"v":8.26},{"s":"27","t":158.75,"v":8.4},
      {"s":"29","t":-30,"v":7.9},{"s":"29","t":-28.5,"v":7.75},{"s":"29","t":-27.5,"v":7.65},{"s":"29","t":-25,"v":7.75},{"s":"29","t":-23,"v":7.85},{"s":"29","t":-22,"v":8.1},{"s":"29","t":-21,"v":7.45},{"s":"29","t":-20,"v":7.7},{"s":"29","t":-17.5,"v":7.85},{"s":"29","t":-15,"v":7.8},{"s":"29","t":-12.5,"v":7.95},{"s":"29","t":-10,"v":7.9},{"s":"29","t":-7.5,"v":8.05},{"s":"29","t":-5,"v":7.95},{"s":"29","t":-2.5,"v":8.1},{"s":"29","t":-1,"v":7.95},{"s":"29","t":-0.3,"v":8.1},{"s":"29","t":0.2,"v":4.2},{"s":"29","t":1.5,"v":4.0},{"s":"29","t":2.0,"v":6.0},{"s":"29","t":2.4,"v":11.5},{"s":"29","t":2.8,"v":13.15},{"s":"29","t":3.7,"v":11.2},{"s":"29","t":4.5,"v":13.0},{"s":"29","t":5.4,"v":13.3},{"s":"29","t":7.5,"v":13.45},{"s":"29","t":10,"v":13.25},{"s":"29","t":12.5,"v":13.55},{"s":"29","t":15,"v":13.3},{"s":"29","t":17.5,"v":13.6},{"s":"29","t":20,"v":13.35},{"s":"29","t":22.5,"v":13.5},{"s":"29","t":25,"v":13.25},{"s":"29","t":27.5,"v":13.6},{"s":"29","t":30,"v":13.4},{"s":"29","t":32.5,"v":13.55},{"s":"29","t":35,"v":13.3},{"s":"29","t":37.5,"v":13.6},{"s":"29","t":40,"v":13.4},{"s":"29","t":42.5,"v":13.5},{"s":"29","t":45,"v":13.3},{"s":"29","t":47.5,"v":13.65},{"s":"29","t":50,"v":13.45},{"s":"29","t":52.5,"v":13.7},{"s":"29","t":55,"v":13.5},{"s":"29","t":57.5,"v":13.6},{"s":"29","t":58.9,"v":13.5},{"s":"29","t":59.8,"v":12.2},{"s":"29","t":60.6,"v":11.1},{"s":"29","t":61.5,"v":12.0},{"s":"29","t":61.9,"v":10.9},{"s":"29","t":62.6,"v":11.8},{"s":"29","t":63.2,"v":11.3},{"s":"29","t":63.9,"v":11.6},{"s":"29","t":64.6,"v":10.3},{"s":"29","t":65.4,"v":11.3},{"s":"29","t":66.2,"v":10.6},{"s":"29","t":66.9,"v":9.76},{"s":"29","t":67.7,"v":9.25},{"s":"29","t":68.4,"v":8.64},{"s":"29","t":69.6,"v":8.23},{"s":"29","t":70.7,"v":8.54},{"s":"29","t":72.2,"v":8.84},{"s":"29","t":74.5,"v":8.95},{"s":"29","t":77.5,"v":8.84},{"s":"29","t":80,"v":8.92},{"s":"29","t":81.3,"v":8.9},{"s":"29","t":83.9,"v":9.05},{"s":"29","t":85.1,"v":8.74},{"s":"29","t":86.6,"v":8.49},{"s":"29","t":89.6,"v":8.64},{"s":"29","t":92.5,"v":8.6},{"s":"29","t":95,"v":8.75},{"s":"29","t":97.5,"v":8.55},{"s":"29","t":100,"v":8.7},{"s":"29","t":102.5,"v":8.6},{"s":"29","t":105,"v":8.78},{"s":"29","t":107.5,"v":8.58},{"s":"29","t":110,"v":8.72},{"s":"29","t":112.5,"v":8.55},{"s":"29","t":115,"v":8.7},{"s":"29","t":117.5,"v":8.62},{"s":"29","t":120,"v":8.75},{"s":"29","t":122.5,"v":8.55},{"s":"29","t":125,"v":8.72},{"s":"29","t":127.5,"v":8.6},{"s":"29","t":130,"v":8.78},{"s":"29","t":132.5,"v":8.58},{"s":"29","t":135,"v":8.72},{"s":"29","t":137.5,"v":8.6},{"s":"29","t":140,"v":8.75},{"s":"29","t":142.5,"v":8.55},{"s":"29","t":145,"v":8.7},{"s":"29","t":147.5,"v":8.62},{"s":"29","t":150,"v":8.78},{"s":"29","t":152.5,"v":8.6},{"s":"29","t":155,"v":8.72},{"s":"29","t":157.5,"v":8.58},{"s":"29","t":160,"v":8.76},
      {"s":"29","t":-18.75,"v":7.72},{"s":"29","t":-16.25,"v":7.9},{"s":"29","t":-13.75,"v":7.75},{"s":"29","t":-11.25,"v":8.02},{"s":"29","t":-8.75,"v":7.85},{"s":"29","t":-6.25,"v":8.1},{"s":"29","t":-3.75,"v":7.9},{"s":"29","t":-1.75,"v":8.15},{"s":"29","t":6.25,"v":13.6},{"s":"29","t":8.75,"v":13.3},{"s":"29","t":11.25,"v":13.65},{"s":"29","t":13.75,"v":13.35},{"s":"29","t":16.25,"v":13.7},{"s":"29","t":18.75,"v":13.3},{"s":"29","t":21.25,"v":13.6},{"s":"29","t":23.75,"v":13.4},{"s":"29","t":26.25,"v":13.75},{"s":"29","t":28.75,"v":13.3},{"s":"29","t":31.25,"v":13.65},{"s":"29","t":33.75,"v":13.4},{"s":"29","t":36.25,"v":13.7},{"s":"29","t":38.75,"v":13.35},{"s":"29","t":41.25,"v":13.6},{"s":"29","t":43.75,"v":13.45},{"s":"29","t":46.25,"v":13.75},{"s":"29","t":48.75,"v":13.4},{"s":"29","t":51.25,"v":13.8},{"s":"29","t":53.75,"v":13.45},{"s":"29","t":56.25,"v":13.75},{"s":"29","t":91.25,"v":8.72},{"s":"29","t":93.75,"v":8.55},{"s":"29","t":96.25,"v":8.68},{"s":"29","t":98.75,"v":8.8},{"s":"29","t":101.25,"v":8.55},{"s":"29","t":103.75,"v":8.7},{"s":"29","t":106.25,"v":8.6},{"s":"29","t":108.75,"v":8.8},{"s":"29","t":111.25,"v":8.58},{"s":"29","t":113.75,"v":8.74},{"s":"29","t":116.25,"v":8.56},{"s":"29","t":118.75,"v":8.82},{"s":"29","t":121.25,"v":8.6},{"s":"29","t":123.75,"v":8.7},{"s":"29","t":126.25,"v":8.55},{"s":"29","t":128.75,"v":8.8},{"s":"29","t":131.25,"v":8.62},{"s":"29","t":133.75,"v":8.68},{"s":"29","t":136.25,"v":8.54},{"s":"29","t":138.75,"v":8.8},{"s":"29","t":141.25,"v":8.62},{"s":"29","t":143.75,"v":8.74},{"s":"29","t":146.25,"v":8.56},{"s":"29","t":148.75,"v":8.7},{"s":"29","t":151.25,"v":8.6},{"s":"29","t":153.75,"v":8.82},{"s":"29","t":156.25,"v":8.58},{"s":"29","t":158.75,"v":8.7},
      {"s":"33","t":-30,"v":7.1},{"s":"33","t":-27.5,"v":7.22},{"s":"33","t":-25,"v":7.05},{"s":"33","t":-22.5,"v":7.18},{"s":"33","t":-20,"v":7.08},{"s":"33","t":-17.5,"v":7.25},{"s":"33","t":-15,"v":7.12},{"s":"33","t":-12.5,"v":7.2},{"s":"33","t":-10,"v":7.05},{"s":"33","t":-7.5,"v":7.28},{"s":"33","t":-5,"v":7.1},{"s":"33","t":-2.5,"v":7.2},{"s":"33","t":-1,"v":7.0},{"s":"33","t":-0.5,"v":7.15},{"s":"33","t":0,"v":4.2},{"s":"33","t":1.5,"v":4.1},{"s":"33","t":2.0,"v":5.0},{"s":"33","t":2.6,"v":11.5},{"s":"33","t":3.2,"v":10.44},{"s":"33","t":4.1,"v":11.45},{"s":"33","t":5.4,"v":12.2},{"s":"33","t":7.1,"v":12.84},{"s":"33","t":10,"v":12.95},{"s":"33","t":12.5,"v":12.8},{"s":"33","t":15,"v":13.05},{"s":"33","t":17.5,"v":12.85},{"s":"33","t":20,"v":13.1},{"s":"33","t":22.5,"v":12.9},{"s":"33","t":25,"v":13.05},{"s":"33","t":26.1,"v":12.9},{"s":"33","t":27.0,"v":12.53},{"s":"33","t":28.3,"v":12.2},{"s":"33","t":30.0,"v":11.9},{"s":"33","t":30.9,"v":11.76},{"s":"33","t":31.7,"v":11.37},{"s":"33","t":32.6,"v":11.5},{"s":"33","t":33.0,"v":10.75},{"s":"33","t":33.9,"v":11.06},{"s":"33","t":34.1,"v":10.44},{"s":"33","t":34.5,"v":9.51},{"s":"33","t":35.0,"v":9.98},{"s":"33","t":35.4,"v":9.28},{"s":"33","t":36.0,"v":8.97},{"s":"33","t":36.7,"v":8.27},{"s":"33","t":37.1,"v":8.66},{"s":"33","t":37.8,"v":7.96},{"s":"33","t":38.6,"v":8.27},{"s":"33","t":39.1,"v":7.73},{"s":"33","t":40.4,"v":7.5},{"s":"33","t":41.0,"v":7.34},{"s":"33","t":41.6,"v":7.58},{"s":"33","t":43.4,"v":7.81},{"s":"33","t":45.5,"v":8.04},{"s":"33","t":47.7,"v":8.0},{"s":"33","t":50,"v":8.15},{"s":"33","t":52.0,"v":8.12},{"s":"33","t":55,"v":8.0},{"s":"33","t":57.5,"v":8.12},{"s":"33","t":60,"v":8.02},{"s":"33","t":62.5,"v":8.15},{"s":"33","t":65,"v":8.05},{"s":"33","t":67.5,"v":8.18},{"s":"33","t":70,"v":8.02},{"s":"33","t":72.5,"v":8.12},{"s":"33","t":75,"v":8.05},{"s":"33","t":77.5,"v":8.2},{"s":"33","t":80,"v":8.04},{"s":"33","t":82.5,"v":8.14},{"s":"33","t":85,"v":8.06},{"s":"33","t":87.5,"v":8.16},{"s":"33","t":90,"v":8.02},{"s":"33","t":92.5,"v":8.14},{"s":"33","t":95,"v":8.08},{"s":"33","t":97.5,"v":8.18},{"s":"33","t":100,"v":8.04},{"s":"33","t":102.5,"v":8.12},{"s":"33","t":105,"v":8.06},{"s":"33","t":107.5,"v":8.16},{"s":"33","t":110,"v":8.02},{"s":"33","t":112.5,"v":8.14},{"s":"33","t":115,"v":8.08},{"s":"33","t":117.5,"v":8.2},{"s":"33","t":120,"v":8.04},{"s":"33","t":122.5,"v":8.12},{"s":"33","t":125,"v":8.06},{"s":"33","t":127.5,"v":8.16},{"s":"33","t":130,"v":8.02},{"s":"33","t":132.5,"v":8.14},{"s":"33","t":135,"v":8.08},{"s":"33","t":137.5,"v":8.18},{"s":"33","t":140,"v":8.04},{"s":"33","t":142.5,"v":8.12},{"s":"33","t":145,"v":8.06},{"s":"33","t":147.5,"v":8.2},{"s":"33","t":150,"v":8.04},{"s":"33","t":152.5,"v":8.14},{"s":"33","t":155,"v":8.06},{"s":"33","t":157.5,"v":8.16},{"s":"33","t":160,"v":8.08},
      {"s":"33","t":-28.75,"v":7.15},{"s":"33","t":-26.25,"v":7.05},{"s":"33","t":-23.75,"v":7.25},{"s":"33","t":-21.25,"v":7.1},{"s":"33","t":-18.75,"v":7.2},{"s":"33","t":-16.25,"v":7.05},{"s":"33","t":-13.75,"v":7.22},{"s":"33","t":-11.25,"v":7.12},{"s":"33","t":-8.75,"v":7.18},{"s":"33","t":-6.25,"v":7.05},{"s":"33","t":-3.75,"v":7.24},{"s":"33","t":-1.75,"v":7.12},{"s":"33","t":8.75,"v":13.05},{"s":"33","t":11.25,"v":12.85},{"s":"33","t":13.75,"v":13.1},{"s":"33","t":16.25,"v":12.9},{"s":"33","t":18.75,"v":13.15},{"s":"33","t":21.25,"v":12.85},{"s":"33","t":23.75,"v":13.1},{"s":"33","t":48.75,"v":8.1},{"s":"33","t":51.25,"v":8.05},{"s":"33","t":53.75,"v":8.16},{"s":"33","t":56.25,"v":8.04},{"s":"33","t":58.75,"v":8.16},{"s":"33","t":61.25,"v":8.06},{"s":"33","t":63.75,"v":8.12},{"s":"33","t":66.25,"v":8.02},{"s":"33","t":68.75,"v":8.14},{"s":"33","t":71.25,"v":8.08},{"s":"33","t":73.75,"v":8.18},{"s":"33","t":76.25,"v":8.04},{"s":"33","t":78.75,"v":8.12},{"s":"33","t":81.25,"v":8.06},{"s":"33","t":83.75,"v":8.18},{"s":"33","t":86.25,"v":8.04},{"s":"33","t":88.75,"v":8.12},{"s":"33","t":91.25,"v":8.08},{"s":"33","t":93.75,"v":8.18},{"s":"33","t":96.25,"v":8.04},{"s":"33","t":98.75,"v":8.14},{"s":"33","t":101.25,"v":8.08},{"s":"33","t":103.75,"v":8.16},{"s":"33","t":106.25,"v":8.04},{"s":"33","t":108.75,"v":8.14},{"s":"33","t":111.25,"v":8.08},{"s":"33","t":113.75,"v":8.16},{"s":"33","t":116.25,"v":8.02},{"s":"33","t":118.75,"v":8.12},{"s":"33","t":121.25,"v":8.08},{"s":"33","t":123.75,"v":8.18},{"s":"33","t":126.25,"v":8.04},{"s":"33","t":128.75,"v":8.12},{"s":"33","t":131.25,"v":8.08},{"s":"33","t":133.75,"v":8.16},{"s":"33","t":136.25,"v":8.04},{"s":"33","t":138.75,"v":8.14},{"s":"33","t":141.25,"v":8.08},{"s":"33","t":143.75,"v":8.18},{"s":"33","t":146.25,"v":8.04},{"s":"33","t":148.75,"v":8.12},{"s":"33","t":151.25,"v":8.08},{"s":"33","t":153.75,"v":8.16},{"s":"33","t":156.25,"v":8.04},{"s":"33","t":158.75,"v":8.14},
      {"s":"37","t":-30,"v":6.3},{"s":"37","t":-27.5,"v":6.45},{"s":"37","t":-25,"v":6.25},{"s":"37","t":-22.5,"v":6.5},{"s":"37","t":-20,"v":6.3},{"s":"37","t":-17.5,"v":6.42},{"s":"37","t":-15,"v":6.2},{"s":"37","t":-12.5,"v":6.48},{"s":"37","t":-10,"v":6.28},{"s":"37","t":-7.5,"v":6.45},{"s":"37","t":-5,"v":6.25},{"s":"37","t":-2.5,"v":6.4},{"s":"37","t":-1.5,"v":5.1},{"s":"37","t":-0.8,"v":6.0},{"s":"37","t":-0.4,"v":6.49},{"s":"37","t":0,"v":4.2},{"s":"37","t":2.4,"v":4.0},{"s":"37","t":3.0,"v":9.43},{"s":"37","t":3.45,"v":6.72},{"s":"37","t":3.9,"v":9.43},{"s":"37","t":4.5,"v":9.75},{"s":"37","t":6.7,"v":9.98},{"s":"37","t":7.5,"v":10.13},{"s":"37","t":9.7,"v":10.52},{"s":"37","t":11.4,"v":10.83},{"s":"37","t":13.2,"v":11.14},{"s":"37","t":14.9,"v":11.45},{"s":"37","t":16.6,"v":11.76},{"s":"37","t":17.9,"v":11.9},{"s":"37","t":19.6,"v":12.46},{"s":"37","t":21.8,"v":12.69},{"s":"37","t":24.0,"v":12.92},{"s":"37","t":25.7,"v":12.84},{"s":"37","t":26.1,"v":12.2},{"s":"37","t":26.8,"v":11.76},{"s":"37","t":27.4,"v":11.14},{"s":"37","t":28.7,"v":10.67},{"s":"37","t":29.6,"v":10.05},{"s":"37","t":30.2,"v":9.43},{"s":"37","t":30.6,"v":8.97},{"s":"37","t":31.1,"v":8.74},{"s":"37","t":31.7,"v":7.89},{"s":"37","t":32.6,"v":8.04},{"s":"37","t":34.7,"v":7.81},{"s":"37","t":36.9,"v":7.89},{"s":"37","t":39.1,"v":7.73},{"s":"37","t":41.2,"v":7.58},{"s":"37","t":43.4,"v":7.73},{"s":"37","t":45.5,"v":7.85},{"s":"37","t":47.7,"v":7.89},{"s":"37","t":50,"v":7.95},{"s":"37","t":51.7,"v":8.25},{"s":"37","t":52.5,"v":7.9},{"s":"37","t":55,"v":7.82},{"s":"37","t":57.5,"v":7.92},{"s":"37","t":60,"v":7.8},{"s":"37","t":62.5,"v":7.94},{"s":"37","t":65,"v":7.84},{"s":"37","t":67.5,"v":7.95},{"s":"37","t":70,"v":7.78},{"s":"37","t":72.5,"v":7.9},{"s":"37","t":75,"v":7.82},{"s":"37","t":77.5,"v":7.96},{"s":"37","t":80,"v":7.8},{"s":"37","t":82.5,"v":7.92},{"s":"37","t":85,"v":7.84},{"s":"37","t":87.5,"v":7.95},{"s":"37","t":90,"v":7.78},{"s":"37","t":92.5,"v":7.9},{"s":"37","t":95,"v":7.84},{"s":"37","t":97.5,"v":7.96},{"s":"37","t":100,"v":7.8},{"s":"37","t":102.5,"v":7.92},{"s":"37","t":105,"v":7.82},{"s":"37","t":107.5,"v":7.94},{"s":"37","t":110,"v":7.78},{"s":"37","t":112.5,"v":7.9},{"s":"37","t":115,"v":7.84},{"s":"37","t":117.5,"v":7.96},{"s":"37","t":120,"v":7.8},{"s":"37","t":122.5,"v":7.92},{"s":"37","t":125,"v":7.82},{"s":"37","t":127.5,"v":7.95},{"s":"37","t":130,"v":7.78},{"s":"37","t":132.5,"v":7.9},{"s":"37","t":135,"v":7.84},{"s":"37","t":137.5,"v":7.96},{"s":"37","t":140,"v":7.8},{"s":"37","t":142.5,"v":7.92},{"s":"37","t":145,"v":7.82},{"s":"37","t":147.5,"v":7.94},{"s":"37","t":150,"v":7.78},{"s":"37","t":152.5,"v":7.9},{"s":"37","t":155,"v":7.84},{"s":"37","t":157.5,"v":7.96},{"s":"37","t":160,"v":7.85},
      {"s":"37","t":-28.75,"v":6.35},{"s":"37","t":-26.25,"v":6.22},{"s":"37","t":-23.75,"v":6.4},{"s":"37","t":-21.25,"v":6.22},{"s":"37","t":-18.75,"v":6.38},{"s":"37","t":-16.25,"v":6.3},{"s":"37","t":-13.75,"v":6.42},{"s":"37","t":-11.25,"v":6.25},{"s":"37","t":-8.75,"v":6.35},{"s":"37","t":-6.25,"v":6.45},{"s":"37","t":-3.75,"v":6.3},{"s":"37","t":53.75,"v":7.95},{"s":"37","t":56.25,"v":7.84},{"s":"37","t":58.75,"v":7.96},{"s":"37","t":61.25,"v":7.82},{"s":"37","t":63.75,"v":7.9},{"s":"37","t":66.25,"v":7.8},{"s":"37","t":68.75,"v":7.92},{"s":"37","t":71.25,"v":7.84},{"s":"37","t":73.75,"v":7.95},{"s":"37","t":76.25,"v":7.8},{"s":"37","t":78.75,"v":7.9},{"s":"37","t":81.25,"v":7.82},{"s":"37","t":83.75,"v":7.96},{"s":"37","t":86.25,"v":7.8},{"s":"37","t":88.75,"v":7.92},{"s":"37","t":91.25,"v":7.84},{"s":"37","t":93.75,"v":7.96},{"s":"37","t":96.25,"v":7.8},{"s":"37","t":98.75,"v":7.9},{"s":"37","t":101.25,"v":7.82},{"s":"37","t":103.75,"v":7.95},{"s":"37","t":106.25,"v":7.8},{"s":"37","t":108.75,"v":7.92},{"s":"37","t":111.25,"v":7.84},{"s":"37","t":113.75,"v":7.96},{"s":"37","t":116.25,"v":7.8},{"s":"37","t":118.75,"v":7.9},{"s":"37","t":121.25,"v":7.82},{"s":"37","t":123.75,"v":7.95},{"s":"37","t":126.25,"v":7.8},{"s":"37","t":128.75,"v":7.92},{"s":"37","t":131.25,"v":7.84},{"s":"37","t":133.75,"v":7.96},{"s":"37","t":136.25,"v":7.8},{"s":"37","t":138.75,"v":7.9},{"s":"37","t":141.25,"v":7.82},{"s":"37","t":143.75,"v":7.95},{"s":"37","t":146.25,"v":7.8},{"s":"37","t":148.75,"v":7.92},{"s":"37","t":151.25,"v":7.84},{"s":"37","t":153.75,"v":7.96},{"s":"37","t":156.25,"v":7.8},{"s":"37","t":158.75,"v":7.9},
      {"s":"40","t":-30,"v":5.6},{"s":"40","t":-27.5,"v":5.75},{"s":"40","t":-25,"v":5.55},{"s":"40","t":-22.5,"v":5.7},{"s":"40","t":-20,"v":5.58},{"s":"40","t":-17.5,"v":5.72},{"s":"40","t":-15,"v":5.55},{"s":"40","t":-12.5,"v":5.68},{"s":"40","t":-10,"v":5.6},{"s":"40","t":-7.5,"v":5.8},{"s":"40","t":-5,"v":5.62},{"s":"40","t":-2.5,"v":5.75},{"s":"40","t":-1.5,"v":5.1},{"s":"40","t":-1,"v":5.65},{"s":"40","t":-0.3,"v":5.75},{"s":"40","t":0.2,"v":5.5},{"s":"40","t":0.5,"v":4.0},{"s":"40","t":2.0,"v":4.1},{"s":"40","t":2.4,"v":10.13},{"s":"40","t":3.0,"v":10.29},{"s":"40","t":3.45,"v":8.82},{"s":"40","t":4.3,"v":9.9},{"s":"40","t":5.8,"v":10.37},{"s":"40","t":8.0,"v":10.67},{"s":"40","t":10.1,"v":10.98},{"s":"40","t":12.3,"v":11.45},{"s":"40","t":13.6,"v":11.68},{"s":"40","t":15.3,"v":11.9},{"s":"40","t":16.2,"v":11.76},{"s":"40","t":17.5,"v":11.45},{"s":"40","t":18.8,"v":11.22},{"s":"40","t":20.5,"v":10.83},{"s":"40","t":21.4,"v":10.67},{"s":"40","t":22.2,"v":9.9},{"s":"40","t":23.1,"v":9.43},{"s":"40","t":24.2,"v":8.97},{"s":"40","t":24.6,"v":8.2},{"s":"40","t":25.2,"v":8.97},{"s":"40","t":25.7,"v":7.73},{"s":"40","t":26.1,"v":8.35},{"s":"40","t":27.0,"v":7.27},{"s":"40","t":27.6,"v":6.72},{"s":"40","t":30.4,"v":6.8},{"s":"40","t":33.4,"v":6.96},{"s":"40","t":36.9,"v":6.8},{"s":"40","t":39.1,"v":6.65},{"s":"40","t":41.5,"v":6.82},{"s":"40","t":43.4,"v":6.8},{"s":"40","t":45.5,"v":6.7},{"s":"40","t":47.7,"v":6.72},{"s":"40","t":49.9,"v":6.57},{"s":"40","t":52.5,"v":6.78},{"s":"40","t":55,"v":6.7},{"s":"40","t":57.5,"v":6.85},{"s":"40","t":60,"v":6.7},{"s":"40","t":62.5,"v":6.82},{"s":"40","t":65,"v":6.68},{"s":"40","t":67.5,"v":6.86},{"s":"40","t":70,"v":6.72},{"s":"40","t":72.5,"v":6.8},{"s":"40","t":75,"v":6.68},{"s":"40","t":77.5,"v":6.84},{"s":"40","t":80,"v":6.7},{"s":"40","t":82.5,"v":6.82},{"s":"40","t":85,"v":6.66},{"s":"40","t":87.5,"v":6.8},{"s":"40","t":90,"v":6.72},{"s":"40","t":92.5,"v":6.84},{"s":"40","t":95,"v":6.68},{"s":"40","t":97.5,"v":6.8},{"s":"40","t":100,"v":6.74},{"s":"40","t":102.5,"v":6.86},{"s":"40","t":105,"v":6.7},{"s":"40","t":107.5,"v":6.8},{"s":"40","t":110,"v":6.66},{"s":"40","t":112.5,"v":6.82},{"s":"40","t":115,"v":6.72},{"s":"40","t":117.5,"v":6.84},{"s":"40","t":120,"v":6.68},{"s":"40","t":122.5,"v":6.8},{"s":"40","t":125,"v":6.7},{"s":"40","t":127.5,"v":6.88},{"s":"40","t":130,"v":6.72},{"s":"40","t":132.5,"v":6.82},{"s":"40","t":135,"v":6.68},{"s":"40","t":137.5,"v":6.8},{"s":"40","t":140,"v":6.72},{"s":"40","t":142.5,"v":6.86},{"s":"40","t":145,"v":6.7},{"s":"40","t":147.5,"v":6.8},{"s":"40","t":150,"v":6.66},{"s":"40","t":152.5,"v":6.82},{"s":"40","t":155,"v":6.74},{"s":"40","t":157.5,"v":6.84},{"s":"40","t":160,"v":6.7},
      {"s":"40","t":-28.75,"v":5.62},{"s":"40","t":-26.25,"v":5.7},{"s":"40","t":-23.75,"v":5.58},{"s":"40","t":-21.25,"v":5.66},{"s":"40","t":-18.75,"v":5.55},{"s":"40","t":-16.25,"v":5.68},{"s":"40","t":-13.75,"v":5.62},{"s":"40","t":-11.25,"v":5.74},{"s":"40","t":-8.75,"v":5.64},{"s":"40","t":-6.25,"v":5.7},{"s":"40","t":-3.75,"v":5.6},{"s":"40","t":58.75,"v":6.72},{"s":"40","t":61.25,"v":6.78},{"s":"40","t":63.75,"v":6.7},{"s":"40","t":66.25,"v":6.8},{"s":"40","t":68.75,"v":6.7},{"s":"40","t":71.25,"v":6.78},{"s":"40","t":73.75,"v":6.72},{"s":"40","t":76.25,"v":6.8},{"s":"40","t":78.75,"v":6.68},{"s":"40","t":81.25,"v":6.78},{"s":"40","t":83.75,"v":6.72},{"s":"40","t":86.25,"v":6.84},{"s":"40","t":88.75,"v":6.7},{"s":"40","t":91.25,"v":6.78},{"s":"40","t":93.75,"v":6.72},{"s":"40","t":96.25,"v":6.82},{"s":"40","t":98.75,"v":6.7},{"s":"40","t":101.25,"v":6.78},{"s":"40","t":103.75,"v":6.72},{"s":"40","t":106.25,"v":6.84},{"s":"40","t":108.75,"v":6.7},{"s":"40","t":111.25,"v":6.78},{"s":"40","t":113.75,"v":6.72},{"s":"40","t":116.25,"v":6.8},{"s":"40","t":118.75,"v":6.7},{"s":"40","t":121.25,"v":6.9},{"s":"40","t":123.75,"v":6.72},{"s":"40","t":126.25,"v":6.8},{"s":"40","t":128.75,"v":6.7},{"s":"40","t":131.25,"v":6.78},{"s":"40","t":133.75,"v":6.72},{"s":"40","t":136.25,"v":6.82},{"s":"40","t":138.75,"v":6.7},{"s":"40","t":141.25,"v":6.78},{"s":"40","t":143.75,"v":6.72},{"s":"40","t":146.25,"v":6.84},{"s":"40","t":148.75,"v":6.7},{"s":"40","t":151.25,"v":6.78},{"s":"40","t":153.75,"v":6.72},{"s":"40","t":156.25,"v":6.8},{"s":"40","t":158.75,"v":6.68}
    ],
    "c": [
      {"g":"3 mm","T":31,"v":35.5},{"g":"3 mm","T":33,"v":31.5},{"g":"3 mm","T":37,"v":24.8},{"g":"3 mm","T":40,"v":20.8},
      {"g":"8 mm","T":25,"v":124},{"g":"8 mm","T":27,"v":84},{"g":"8 mm","T":29,"v":63.5},{"g":"8 mm","T":33,"v":33.5},{"g":"8 mm","T":37,"v":28.6},{"g":"8 mm","T":40,"v":23.5}
    ],
    "fit8": [
      {"T":25,"v":123.5},{"T":25.5,"v":112.4},{"T":26,"v":102.5},{"T":26.5,"v":93.7},{"T":27,"v":85.9},{"T":27.5,"v":78.9},{"T":28,"v":72.7},{"T":28.5,"v":67.2},{"T":29,"v":62.2},{"T":30,"v":54.0},{"T":31,"v":47.0},{"T":32,"v":42.0},{"T":33,"v":37.9},{"T":34,"v":34.6},{"T":35,"v":31.8},{"T":36,"v":29.8},{"T":37,"v":28.2},{"T":38,"v":26.9},{"T":39,"v":25.9},{"T":40,"v":25.0}
    ],
    "fit3": [
      {"T":31,"v":35.5},{"T":33,"v":31.6},{"T":35,"v":28.2},{"T":37,"v":25.0},{"T":38.5,"v":22.8},{"T":40,"v":20.8}
    ]
  },
  "resolve": {"scale": {"color": "independent", "shape": "independent"}, "legend": {"color": "independent", "shape": "independent"}},
  "vconcat": [
    {
      "width": 2523, "height": 991,
      "title": {"text": "(a)", "offset": -58},
      "layer": [
        {
          "data": {"name": "a"},
          "mark": {"type": "line", "clip": true, "strokeWidth": 3, "strokeJoin": "round"},
          "encoding": {
            "x": {"field": "t", "type": "quantitative", "scale": {"domain": [-10, 60], "nice": false, "zero": false},
              "axis": {"title": "Time (min)", "values": [-10,-5,0,5,10,15,20,25,30,35,40,45,50,55,60],
                "labelExpr": "datum.value >= 0 && datum.value % 10 == 0 ? format(datum.value, 'd') : ''",
                "tickSize": {"condition": {"test": "datum.value % 10 != 0", "value": 12}, "value": 24}}},
            "y": {"field": "v", "type": "quantitative", "scale": {"domain": [4, 9], "nice": false, "zero": false},
              "axis": {"title": "Rₜₕ (°C/W)", "values": [4,4.5,5,5.5,6,6.5,7,7.5,8,8.5,9],
                "labelExpr": "datum.value % 1 == 0 ? format(datum.value, 'd') : ''",
                "tickSize": {"condition": {"test": "datum.value % 1 != 0", "value": 12}, "value": 24}}},
            "color": {"field": "s", "type": "nominal",
              "scale": {"domain": ["25","29","31","33","37","40"], "range": ["#505050","#ff0000","#ffff00","#0b62d6","#12d612","#d99a10"]},
              "legend": {"title": null, "orient": "none", "legendX": 2219, "legendY": 460, "symbolType": "stroke", "symbolSize": 7225, "symbolStrokeWidth": 13,
                "labelFontSize": 67, "labelOffset": 10, "rowPadding": 16, "padding": 2, "fillColor": "rgba(255,255,255,0.75)", "labelExpr": "datum.label + ' °C'"}}
          }
        },
        {"data": {"values": [{}]}, "mark": {"type": "text", "text": "h", "fontStyle": "italic", "fontSize": 94, "align": "left", "baseline": "alphabetic"}, "encoding": {"x": {"datum": -9.0}, "y": {"datum": 8.39}}},
        {"data": {"values": [{}]}, "mark": {"type": "text", "text": "i", "fontStyle": "italic", "fontSize": 64, "align": "left", "baseline": "alphabetic"}, "encoding": {"x": {"datum": -7.67}, "y": {"datum": 8.28}}},
        {"data": {"values": [{}]}, "mark": {"type": "text", "text": "= 3.0 mm,", "fontSize": 94, "align": "left", "baseline": "alphabetic"}, "encoding": {"x": {"datum": -6.62}, "y": {"datum": 8.39}}},
        {"data": {"values": [{}]}, "mark": {"type": "text", "text": "c", "fontStyle": "italic", "fontSize": 94, "align": "left", "baseline": "alphabetic"}, "encoding": {"x": {"datum": 7.81}, "y": {"datum": 8.39}}},
        {"data": {"values": [{}]}, "mark": {"type": "text", "text": "yeast", "fontStyle": "italic", "fontSize": 64, "align": "left", "baseline": "alphabetic"}, "encoding": {"x": {"datum": 8.86}, "y": {"datum": 8.28}}},
        {"data": {"values": [{}]}, "mark": {"type": "text", "text": "= 20 mg mL", "fontSize": 94, "align": "left", "baseline": "alphabetic"}, "encoding": {"x": {"datum": 13.36}, "y": {"datum": 8.39}}},
        {"data": {"values": [{}]}, "mark": {"type": "text", "text": "-1", "fontSize": 62, "align": "left", "baseline": "alphabetic"}, "encoding": {"x": {"datum": 26.5}, "y": {"datum": 8.6}}}
      ]
    },
    {
      "width": 2523, "height": 988,
      "title": {"text": "(b)", "offset": -94},
      "layer": [
        {
          "data": {"name": "b"},
          "mark": {"type": "line", "clip": true, "strokeWidth": 3, "strokeJoin": "round"},
          "encoding": {
            "x": {"field": "t", "type": "quantitative", "scale": {"domain": [-30, 160], "nice": false, "zero": false},
              "axis": {"title": "Time (min)", "values": [-30,-15,0,15,30,45,60,75,90,105,120,135,150],
                "labelExpr": "datum.value >= 0 && datum.value % 30 == 0 ? format(datum.value, 'd') : ''",
                "tickSize": {"condition": {"test": "datum.value % 30 != 0", "value": 12}, "value": 24}}},
            "y": {"field": "v", "type": "quantitative", "scale": {"domain": [4, 16], "nice": false, "zero": false},
              "axis": {"title": "Rₜₕ (°C/W)", "values": [4,5,6,7,8,9,10,11,12,13,14,15,16],
                "labelExpr": "datum.value % 2 == 0 ? format(datum.value, 'd') : ''",
                "tickSize": {"condition": {"test": "datum.value % 2 != 0", "value": 12}, "value": 24}}},
            "color": {"field": "s", "type": "nominal",
              "scale": {"domain": ["25","27","29","33","37","40"], "range": ["#505050","#c4c4c4","#ff0000","#0b62d6","#12d612","#d99a10"]},
              "legend": {"title": null, "orient": "none", "legendX": 2219, "legendY": 29, "symbolType": "stroke", "symbolSize": 7225, "symbolStrokeWidth": 13,
                "labelFontSize": 67, "labelOffset": 10, "rowPadding": 16, "padding": 2, "labelExpr": "datum.label + ' °C'"}}
          }
        },
        {"data": {"values": [{}]}, "mark": {"type": "text", "text": "h", "fontStyle": "italic", "fontSize": 94, "align": "left", "baseline": "alphabetic"}, "encoding": {"x": {"datum": -27.26}, "y": {"datum": 14.56}}},
        {"data": {"values": [{}]}, "mark": {"type": "text", "text": "i", "fontStyle": "italic", "fontSize": 64, "align": "left", "baseline": "alphabetic"}, "encoding": {"x": {"datum": -23.65}, "y": {"datum": 14.3}}},
        {"data": {"values": [{}]}, "mark": {"type": "text", "text": "= 8.0 mm,", "fontSize": 94, "align": "left", "baseline": "alphabetic"}, "encoding": {"x": {"datum": -20.8}, "y": {"datum": 14.56}}},
        {"data": {"values": [{}]}, "mark": {"type": "text", "text": "c", "fontStyle": "italic", "fontSize": 94, "align": "left", "baseline": "alphabetic"}, "encoding": {"x": {"datum": 18.43}, "y": {"datum": 14.56}}},
        {"data": {"values": [{}]}, "mark": {"type": "text", "text": "yeast", "fontStyle": "italic", "fontSize": 64, "align": "left", "baseline": "alphabetic"}, "encoding": {"x": {"datum": 21.3}, "y": {"datum": 14.28}}},
        {"data": {"values": [{}]}, "mark": {"type": "text", "text": "= 20 mg mL", "fontSize": 94, "align": "left", "baseline": "alphabetic"}, "encoding": {"x": {"datum": 33.5}, "y": {"datum": 14.56}}},
        {"data": {"values": [{}]}, "mark": {"type": "text", "text": "-1", "fontSize": 62, "align": "left", "baseline": "alphabetic"}, "encoding": {"x": {"datum": 68.9}, "y": {"datum": 15.06}}}
      ]
    },
    {
      "width": 2523, "height": 991,
      "title": {"text": "(c)", "offset": -132},
      "layer": [
        {
          "data": {"values": [{}]},
          "mark": {"type": "rule", "color": "#ff0000", "strokeWidth": 3, "strokeDash": [8, 7]},
          "encoding": {"y": {"datum": 22.01, "type": "quantitative", "scale": {"domain": [0, 140], "nice": false, "zero": false}}}
        },
        {
          "data": {"name": "fit8"},
          "mark": {"type": "line", "color": "#ff0000", "strokeWidth": 7, "interpolate": "monotone"},
          "encoding": {
            "x": {"field": "T", "type": "quantitative", "scale": {"domain": [23, 41], "nice": false, "zero": false},
              "axis": {"title": "Temperature T₁ (°C)", "values": [23,24,25,26,27,28,29,30,31,32,33,34,35,36,37,38,39,40,41],
                "labelExpr": "datum.value % 2 == 0 ? format(datum.value, 'd') : ''",
                "tickSize": {"condition": {"test": "datum.value % 2 != 0", "value": 12}, "value": 24}}},
            "y": {"field": "v", "type": "quantitative", "scale": {"domain": [0, 140], "nice": false, "zero": false},
              "axis": {"title": "Detachment time td (min)", "values": [0,10,20,30,40,50,60,70,80,90,100,110,120,130,140],
                "labelExpr": "datum.value % 20 == 0 ? format(datum.value, 'd') : ''",
                "tickSize": {"condition": {"test": "datum.value % 20 != 0", "value": 12}, "value": 24}}}
          }
        },
        {
          "data": {"name": "fit3"},
          "mark": {"type": "line", "color": "#000000", "strokeWidth": 7, "interpolate": "monotone"},
          "encoding": {"x": {"field": "T", "type": "quantitative"}, "y": {"field": "v", "type": "quantitative"}}
        },
        {
          "data": {"name": "c"},
          "mark": {"type": "point", "filled": true, "opacity": 1, "size": 800},
          "encoding": {
            "x": {"field": "T", "type": "quantitative"},
            "y": {"field": "v", "type": "quantitative"},
            "color": {"field": "g", "type": "nominal", "scale": {"domain": ["3 mm","8 mm"], "range": ["#505050","#ff4040"]},
              "legend": {"title": null, "orient": "none", "legendX": 2005, "legendY": 115, "symbolSize": 2025, "labelFontSize": 93, "labelOffset": 113, "rowPadding": 25, "padding": 0}},
            "shape": {"field": "g", "type": "nominal", "scale": {"domain": ["3 mm","8 mm"], "range": ["square","circle"]},
              "legend": {"title": null, "orient": "none", "legendX": 2005, "legendY": 115, "symbolSize": 2025, "labelFontSize": 93, "labelOffset": 113, "rowPadding": 25, "padding": 0}}
          }
        },
        {"data": {"values": [{}]}, "mark": {"type": "text", "text": "R", "color": "#ff0000", "fontSize": 95, "align": "left", "baseline": "alphabetic"}, "encoding": {"x": {"datum": 32.62}, "y": {"datum": 46.5}}},
        {"data": {"values": [{}]}, "mark": {"type": "text", "text": "2", "color": "#ff0000", "fontSize": 60, "align": "left", "baseline": "alphabetic"}, "encoding": {"x": {"datum": 33.07}, "y": {"datum": 52.2}}},
        {"data": {"values": [{}]}, "mark": {"type": "text", "text": "> 0.996", "color": "#ff0000", "fontSize": 95, "align": "left", "baseline": "alphabetic"}, "encoding": {"x": {"datum": 33.48}, "y": {"datum": 46.5}}},
        {"data": {"values": [{}]}, "mark": {"type": "text", "text": "t", "color": "#ff0000", "fontStyle": "italic", "fontSize": 95, "align": "left", "baseline": "alphabetic"}, "encoding": {"x": {"datum": 23.17}, "y": {"datum": 26.2}}},
        {"data": {"values": [{}]}, "mark": {"type": "text", "text": "0", "color": "#ff0000", "fontStyle": "italic", "fontSize": 62, "align": "left", "baseline": "alphabetic"}, "encoding": {"x": {"datum": 23.33}, "y": {"datum": 22.9}}},
        {"data": {"values": [{}]}, "mark": {"type": "text", "text": "= 22.01 +/− 2.31 min", "color": "#ff0000", "fontSize": 95, "align": "left", "baseline": "alphabetic"}, "encoding": {"x": {"datum": 23.74}, "y": {"datum": 26.2}}}
      ]
    }
  ]
}
